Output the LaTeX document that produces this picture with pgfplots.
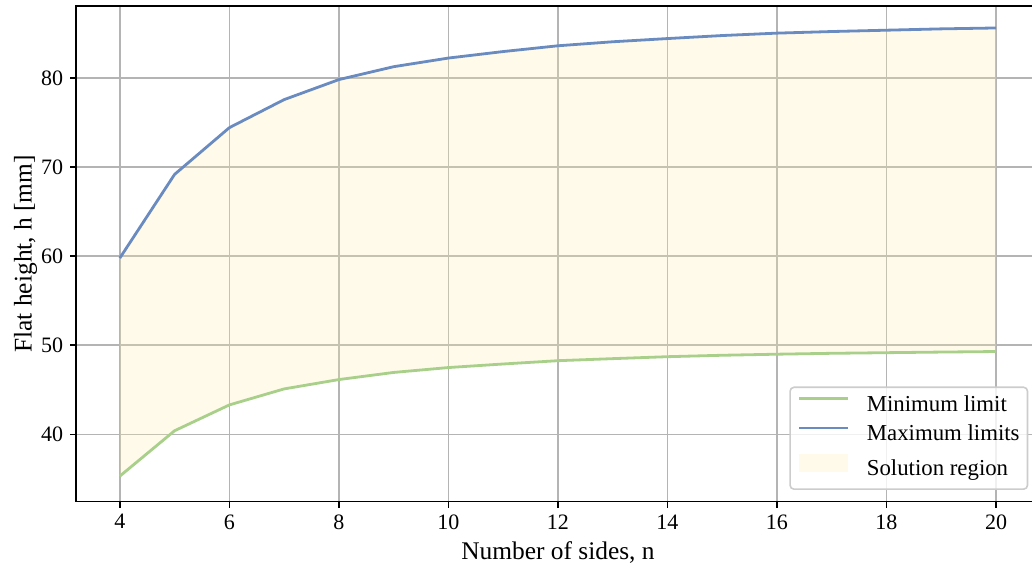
\documentclass[border=0pt]{standalone}
\usepackage{pgfplots}
\pgfplotsset{compat=1.18}
\usepackage{pgfplotstable}
\usepgfplotslibrary{fillbetween}
\usepackage{fontspec}
\setmainfont{Liberation Serif}
\definecolor{maxc}{RGB}{106,139,191}
\definecolor{minc}{RGB}{168,208,138}
\definecolor{fillc}{RGB}{255,236,170}
\definecolor{gridc}{RGB}{180,180,180}
\definecolor{legc}{RGB}{204,204,204}

\pgfplotstableread{
n lower upper
4 35.3 59.8
5 40.4 69.2
6 43.3 74.45
7 45.1 77.6
8 46.15 79.85
9 46.95 81.3
10 47.5 82.27
11 47.9 83.0
12 48.27 83.65
13 48.5 84.1
14 48.72 84.46
15 48.88 84.8
16 49.0 85.07
17 49.1 85.25
18 49.17 85.4
19 49.24 85.55
20 49.3 85.65
}\data

\begin{document}
\begin{tikzpicture}
\begin{axis}[
  scale only axis, width=481.8pt, height=247.8pt,
  xmin=3.2, xmax=20.8, ymin=32.43, ymax=88.12,
  xtick={4,6,...,20}, ytick={40,50,...,80},
  tick pos=left, tick align=outside, major tick length=3pt,
  tick style={black, line width=0.8pt},
  axis line style={black, line width=0.8pt},
  grid=major, major grid style={gridc, line width=0.8pt},
  /pgf/number format/assume math mode=true,
  ticklabel style={font=\fontsize{11}{13}\selectfont},
  xticklabel style={inner sep=0pt, yshift=-3.2pt},
  yticklabel style={inner sep=0pt, xshift=-3.3pt},
  xlabel={Number of sides, n}, ylabel={Flat height, h [mm]},
  every axis x label/.style={at={(axis description cs:0.5,-0.1164)}, anchor=base, font=\fontsize{12.7}{15}\selectfont},
  every axis y label/.style={at={(axis description cs:-0.0461,0.5)}, anchor=base, rotate=90, font=\fontsize{12.7}{15}\selectfont},
  legend style={at={(axis description cs:0.9881,0.0236)}, anchor=south east,
    draw=legc, line width=0.8pt, rounded corners=2pt, fill=white, fill opacity=0.8,
    text opacity=1, draw opacity=1, inner xsep=4pt, inner ysep=4.4pt, row sep=4.6pt,
    font=\fontsize{11.4}{13}\selectfont,
    nodes={inner sep=0pt, text height=0.75em, text depth=0.25em},
    /tikz/every odd column/.append style={column sep=8.7pt},
    cells={anchor=west}},
  legend image code/.code={\draw[#1, sharp corners] (0pt,3.65pt) -- (24.3pt,3.65pt);},
]
\addplot[draw=none, name path=L, forget plot] table[x=n,y=lower]{\data};
\addplot[draw=none, name path=U, forget plot] table[x=n,y=upper]{\data};
\addplot[fill=fillc, fill opacity=0.25, draw=none, forget plot] fill between[of=U and L];
\addplot[minc, line width=1.4pt, line join=round] table[x=n,y=lower]{\data};
\addlegendentry{Minimum limit}
\addplot[maxc, line width=1.4pt, line join=round] table[x=n,y=upper]{\data};
\addlegendentry{Maximum limits}
\addlegendimage{legend image code/.code={\path[draw=none, fill=fillc, fill opacity=0.25, sharp corners] (0pt,-0.65pt) rectangle (24.3pt,7.95pt);}}
\addlegendentry{Solution region}
\end{axis}
\pgfresetboundingbox
\path[use as bounding box] ([xshift=-38pt,yshift=-31.65pt]current axis.south west) rectangle ([xshift=-3.9pt,yshift=3pt]current axis.north east);
\end{tikzpicture}
\end{document}
